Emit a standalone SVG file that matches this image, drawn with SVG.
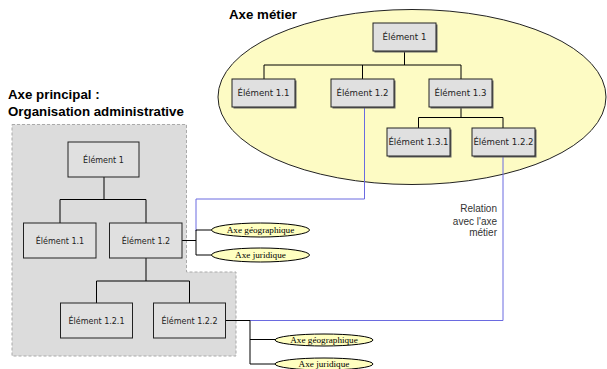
<svg xmlns="http://www.w3.org/2000/svg" width="607" height="369" viewBox="0 0 607 369">
<style>
.hdr{font-family:"Liberation Sans",Arial,sans-serif;font-weight:bold;font-size:13.3px;fill:#000}
.box{fill:#e0e0e0;stroke:#222;stroke-width:1}
.sh{fill:#666}
.lt{font-family:"DejaVu Sans",Verdana,sans-serif;font-size:8px;fill:#222;text-anchor:middle}
.tt{font-family:"DejaVu Sans",Verdana,sans-serif;font-size:8.6px;fill:#222;text-anchor:middle}
.ax{fill:#ffffc0;stroke:#000;stroke-width:1}
.axt{font-family:"Liberation Serif","Times New Roman",serif;font-size:9.2px;fill:#000;text-anchor:middle}
.ln{fill:none;stroke:#000;stroke-width:1}
.bl{fill:none;stroke:#6a6ae0;stroke-width:1}
.rel{font-family:"Liberation Sans",Arial,sans-serif;font-size:10px;fill:#333;text-anchor:end}
</style>
<g id="axe-metier">
<ellipse cx="412" cy="97" rx="194" ry="87.5" fill="#fdfbc4" stroke="#222" stroke-width="1"/>
<text class="hdr" x="229" y="19" font-size="13.8">Axe métier</text>
</g>
<g id="axe-principal">
<polygon points="12,124.5 186.5,124.5 186.5,272 236,272 236,356 12,356" fill="#dcdcdc" stroke="#aaa" stroke-width="1" stroke-dasharray="3,2"/>
<text class="hdr" x="8" y="99">Axe principal :</text>
<text class="hdr" x="8" y="116">Organisation administrative</text>
</g>
<g id="connectors">
<path class="ln" d="M404.5,51 V65 M264,65 H461 M264,65 V79 M362.5,65 V79 M461,65 V79"/>
<path class="ln" d="M461,108 V117.5 M418.5,117.5 H503 M418.5,117.5 V128 M503,117.5 V128"/>
<path class="ln" d="M104,177 V199.5 M60,199.5 H146 M60,199.5 V223 M146,199.5 V223"/>
<path class="ln" d="M146,258 V281 M96.5,281 H189.5 M96.5,281 V303 M189.5,281 V303"/>
<path class="bl" d="M364.5,108 V199 H196 V231"/>
<path class="ln" d="M182,240.5 H196 M196,230 V255 M196,230 H212 M196,255 H212"/>
<path class="bl" d="M503,156 V320.5 H226"/>
<path class="ln" d="M226,320.5 H250 V364 M250,339.5 H276 M250,364 H276"/>
</g>
<g id="m-el1"><rect class="sh" x="374.5" y="24.5" width="63" height="28"/><rect class="box" x="373" y="23" width="63" height="28"/><text class="tt" x="404.5" y="40">Élément 1</text></g>
<g id="m-el11"><rect class="sh" x="233.5" y="80.5" width="63" height="28"/><rect class="box" x="232" y="79" width="63" height="28"/><text class="tt" x="263.5" y="96">Élément 1.1</text></g>
<g id="m-el12"><rect class="sh" x="332.5" y="80.5" width="63" height="28"/><rect class="box" x="331" y="79" width="63" height="28"/><text class="tt" x="362.5" y="96">Élément 1.2</text></g>
<g id="m-el13"><rect class="sh" x="430.5" y="80.5" width="63" height="28"/><rect class="box" x="429" y="79" width="63" height="28"/><text class="tt" x="460.5" y="96">Élément 1.3</text></g>
<g id="m-el131"><rect class="sh" x="388.5" y="129.5" width="63" height="28"/><rect class="box" x="387" y="128" width="63" height="28"/><text class="tt" x="418.5" y="145">Élément 1.3.1</text></g>
<g id="m-el122"><rect class="sh" x="473.5" y="129.5" width="63" height="28"/><rect class="box" x="472" y="128" width="63" height="28"/><text class="tt" x="503.5" y="145">Élément 1.2.2</text></g>
<g id="p-el1"><rect class="box" x="68" y="142" width="71" height="35" fill="#dcdcdc"/><text class="lt" x="103.5" y="162.5">Élément 1</text></g>
<g id="p-el11"><rect class="box" x="23.5" y="223" width="72.5" height="35"/><text class="lt" x="60" y="243.5">Élément 1.1</text></g>
<g id="p-el12"><rect class="box" x="109.5" y="223" width="72.5" height="35"/><text class="lt" x="146" y="243.5">Élément 1.2</text></g>
<g id="p-el121"><rect class="box" x="60.5" y="303" width="72" height="35"/><text class="lt" x="96.5" y="323.5">Élément 1.2.1</text></g>
<g id="p-el122"><rect class="box" x="153.5" y="303" width="72" height="35"/><text class="lt" x="189.5" y="323.5">Élément 1.2.2</text></g>
<g id="a-geo1"><ellipse class="ax" cx="260.5" cy="230" rx="49" ry="7"/><text class="axt" x="260.5" y="233">Axe géographique</text></g>
<g id="a-jur1"><ellipse class="ax" cx="260.5" cy="255" rx="49" ry="7"/><text class="axt" x="260.5" y="258">Axe juridique</text></g>
<g id="a-geo2"><ellipse class="ax" cx="324" cy="340" rx="49" ry="6"/><text class="axt" x="324" y="343">Axe géographique</text></g>
<g id="a-jur2"><ellipse class="ax" cx="324" cy="364" rx="49" ry="6"/><text class="axt" x="324" y="367">Axe juridique</text></g>
<g id="relation"><text class="rel" x="497" y="212">Relation</text><text class="rel" x="497" y="225">avec l'axe</text><text class="rel" x="497" y="236">métier</text></g>
</svg>
